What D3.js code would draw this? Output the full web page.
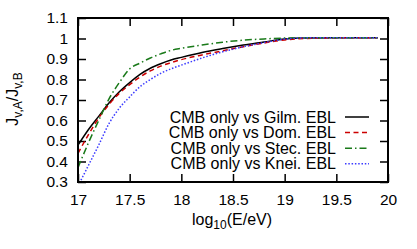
<!DOCTYPE html>
<html>
<head>
<meta charset="utf-8">
<script src="https://cdn.jsdelivr.net/npm/d3@7"></script>
<style>
  body { margin: 0; background: #fff; }
  text { font-family: "Liberation Sans", Arial, sans-serif; fill: #000; }
</style>
</head>
<body>
<div id="chart"></div>
<script>
const width = 417;
const height = 249;

// log10(E/eV) sample points
const energy = [17.0, 17.1, 17.2, 17.3, 17.4, 17.5, 17.6, 17.7, 17.8, 17.9, 18.0, 18.2, 18.4, 18.6, 18.8, 19.0, 19.2, 19.5, 19.9];

const gilmore   = [0.48, 0.555, 0.62, 0.685, 0.74, 0.785, 0.825, 0.855, 0.877, 0.895, 0.908, 0.932, 0.951, 0.968, 0.983, 0.998, 1.003, 1.004, 1.004];
const dominguez = [0.44, 0.53, 0.612, 0.678, 0.733, 0.775, 0.812, 0.842, 0.865, 0.882, 0.897, 0.92, 0.94, 0.96, 0.978, 0.993, 1.0, 1.003, 1.004];
const stecker   = [0.37, 0.49, 0.60, 0.705, 0.785, 0.852, 0.88, 0.905, 0.925, 0.942, 0.952, 0.968, 0.982, 0.992, 0.998, 1.002, 1.004, 1.004, 1.004];
const kneiske   = [0.28, 0.38, 0.48, 0.585, 0.66, 0.715, 0.765, 0.80, 0.83, 0.852, 0.87, 0.905, 0.935, 0.96, 0.98, 0.997, 1.003, 1.004, 1.004];

const seriesNames = ["CMB only vs Gilm. EBL", "CMB only vs Dom. EBL", "CMB only vs Stec. EBL", "CMB only vs Knei. EBL"];
const seriesValues = [gilmore, dominguez, stecker, kneiske];

const xTicks = [17, 17.5, 18, 18.5, 19, 19.5, 20];
const yTicks = [0.3, 0.4, 0.5, 0.6, 0.7, 0.8, 0.9, 1.0, 1.1];

const colors = ["#000000", "#cc0000", "#1a7a1a", "#3b3bff"];
const dashes = [null, "5,3.5", "7,3,1.5,3", "1.5,1.8"];

const m = { left: 78, right: 388, top: 18, bottom: 182 };

const x = d3.scaleLinear().domain([17, 20]).range([m.left, m.right]);
const y = d3.scaleLinear().domain([0.3, 1.1]).range([m.bottom, m.top]);

const svg = d3.select("#chart").append("svg")
    .attr("width", width)
    .attr("height", height);

svg.append("defs").append("clipPath").attr("id", "clip")
  .append("rect")
    .attr("x", m.left).attr("y", m.top)
    .attr("width", m.right - m.left).attr("height", m.bottom - m.top);

const fmt = d => d === 1 ? "1" : d3.format("")(+d.toFixed(1));

// ticks on all four sides, inward
const tl = 8;
svg.append("g").attr("transform", `translate(0,${m.bottom})`)
    .call(d3.axisBottom(x).tickValues(xTicks).tickSizeInner(-tl).tickSizeOuter(0).tickPadding(12).tickFormat(fmt));
svg.append("g").attr("transform", `translate(0,${m.top})`)
    .call(d3.axisTop(x).tickValues(xTicks).tickSizeInner(-tl).tickSizeOuter(0).tickFormat(""));
svg.append("g").attr("transform", `translate(${m.left},0)`)
    .call(d3.axisLeft(y).tickValues(yTicks).tickSizeInner(-tl).tickSizeOuter(0).tickPadding(10).tickFormat(fmt));
svg.append("g").attr("transform", `translate(${m.right},0)`)
    .call(d3.axisRight(y).tickValues(yTicks).tickSizeInner(-tl).tickSizeOuter(0).tickFormat(""));

svg.selectAll(".domain").remove();
svg.selectAll(".tick line").attr("stroke", "#000").attr("stroke-width", 1.5);
svg.selectAll(".tick text").attr("font-size", 15.5).attr("fill", "#000")
    .style("font-family", "'Liberation Sans', Arial, sans-serif");

const line = d3.line()
    .x((d, i) => x(energy[i]))
    .y(d => y(d))
    .curve(d3.curveMonotoneX);

const lines = svg.append("g").attr("clip-path", "url(#clip)");
seriesValues.forEach((vals, k) => {
  lines.append("path")
    .datum(vals)
    .attr("fill", "none")
    .attr("stroke", colors[k])
    .attr("stroke-width", 1.5)
    .attr("stroke-dasharray", dashes[k])
    .attr("d", line);
});

// frame
svg.append("rect")
    .attr("x", m.left).attr("y", m.top)
    .attr("width", m.right - m.left).attr("height", m.bottom - m.top)
    .attr("fill", "none").attr("stroke", "#000").attr("stroke-width", 2);

// legend
const leg = svg.append("g");
seriesNames.forEach((name, k) => {
  const yy = 117 + k * 15.6;
  leg.append("text")
    .attr("x", 336).attr("y", yy).attr("dy", "0.35em")
    .attr("text-anchor", "end").attr("font-size", 16)
    .text(name);
  leg.append("line")
    .attr("x1", 345).attr("x2", 369).attr("y1", yy).attr("y2", yy)
    .attr("stroke", colors[k]).attr("stroke-width", 1.5)
    .attr("stroke-dasharray", dashes[k]);
});

// axis labels
const xl = svg.append("text")
    .attr("x", 232).attr("y", 225)
    .attr("text-anchor", "middle").attr("font-size", 16);
xl.append("tspan").text("log");
xl.append("tspan").attr("font-size", 12).attr("dy", 4).text("10");
xl.append("tspan").attr("dy", -4).text("(E/eV)");

const yl = svg.append("text")
    .attr("transform", `translate(18,${(m.top + m.bottom) / 2 - 1}) rotate(-90)`)
    .attr("text-anchor", "middle").attr("font-size", 16);
yl.append("tspan").text("J");
yl.append("tspan").attr("font-size", 12).attr("dy", 4).text("v,A");
yl.append("tspan").attr("dy", -4).text("/J");
yl.append("tspan").attr("font-size", 12).attr("dy", 4).text("v,B");
</script>
</body>
</html>
